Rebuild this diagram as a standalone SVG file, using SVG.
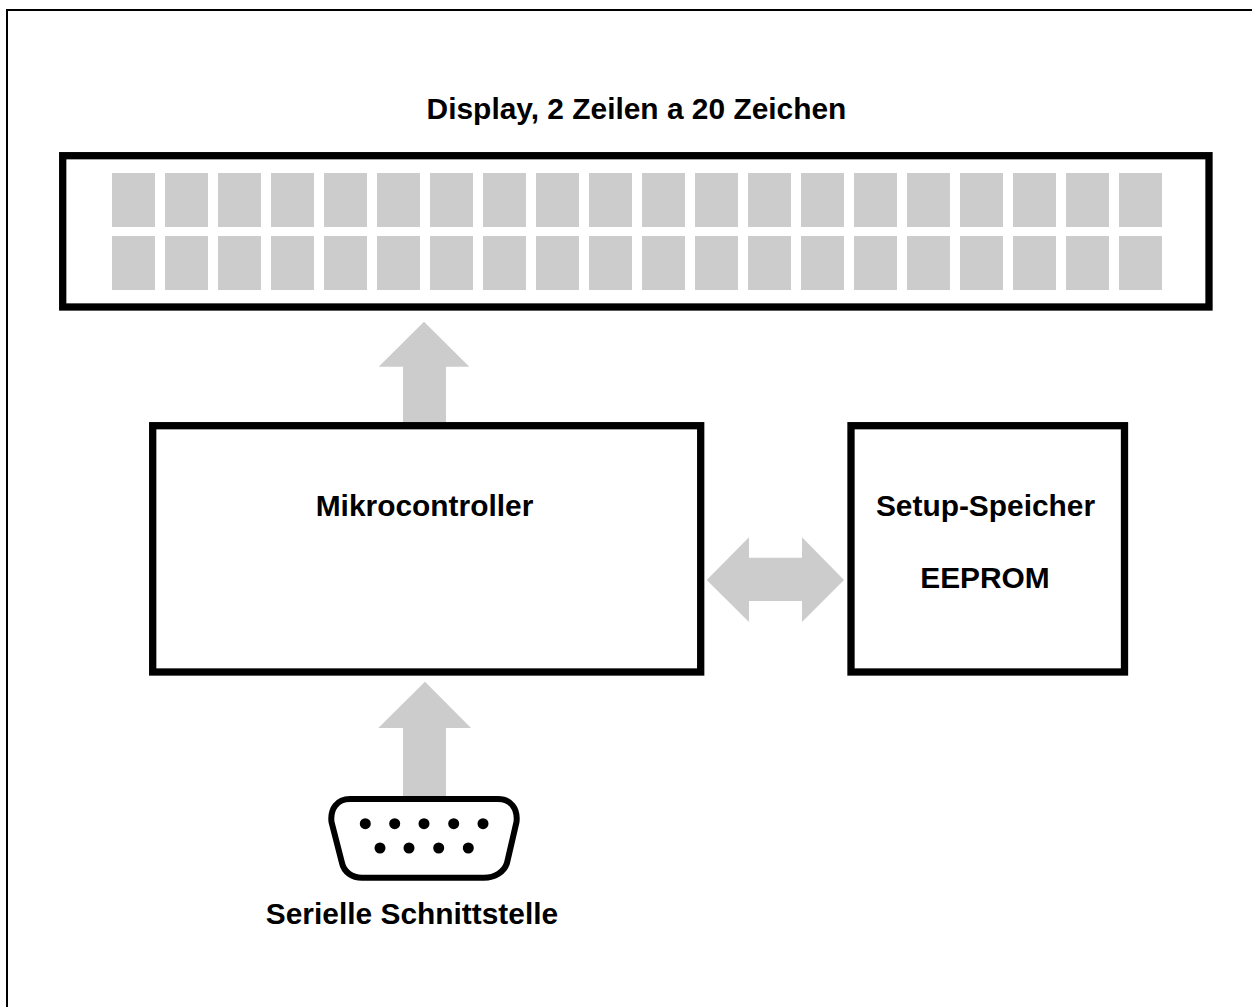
<svg xmlns="http://www.w3.org/2000/svg" width="1252" height="1007" viewBox="0 0 1252 1007">
<style>
.box{fill:none;stroke:#000;stroke-width:7.3}
.cell{fill:#ccc}
.arrow{fill:#ccc}
.t{font-family:"Liberation Sans",Arial,sans-serif;font-weight:bold;font-size:29.9px;text-anchor:middle;fill:#000}
</style>
<defs><rect id="c" class="cell" width="43" height="54"/></defs>
<rect width="1252" height="1007" fill="#fff"/>
<path id="frame" d="M7 1007V10H1252" fill="none" stroke="#000" stroke-width="2"/>
<g id="connectors">
<path class="arrow" d="M424 321.7L469.3 366.7H446V422H403V366.7H378.7Z"/>
<path class="arrow" d="M425 681.7L471 728H446V796H403V728H378.3Z"/>
<path class="arrow" d="M706.7 580L749 537.3V557.7H802V537.3L844 580L802 622V601H749V622Z"/>
</g>
<g id="display">
<text class="t" x="636.5" y="119">Display, 2 Zeilen a 20 Zeichen</text>
<rect class="box" x="62.7" y="155.7" width="1146.3" height="151.3"/>
<g id="cells">
<use href="#c" x="112" y="173"/><use href="#c" x="165" y="173"/><use href="#c" x="218" y="173"/><use href="#c" x="271" y="173"/><use href="#c" x="324" y="173"/><use href="#c" x="377" y="173"/><use href="#c" x="430" y="173"/><use href="#c" x="483" y="173"/><use href="#c" x="536" y="173"/><use href="#c" x="589" y="173"/><use href="#c" x="642" y="173"/><use href="#c" x="695" y="173"/><use href="#c" x="748" y="173"/><use href="#c" x="801" y="173"/><use href="#c" x="854" y="173"/><use href="#c" x="907" y="173"/><use href="#c" x="960" y="173"/><use href="#c" x="1013" y="173"/><use href="#c" x="1066" y="173"/><use href="#c" x="1119" y="173"/>
<use href="#c" x="112" y="236"/><use href="#c" x="165" y="236"/><use href="#c" x="218" y="236"/><use href="#c" x="271" y="236"/><use href="#c" x="324" y="236"/><use href="#c" x="377" y="236"/><use href="#c" x="430" y="236"/><use href="#c" x="483" y="236"/><use href="#c" x="536" y="236"/><use href="#c" x="589" y="236"/><use href="#c" x="642" y="236"/><use href="#c" x="695" y="236"/><use href="#c" x="748" y="236"/><use href="#c" x="801" y="236"/><use href="#c" x="854" y="236"/><use href="#c" x="907" y="236"/><use href="#c" x="960" y="236"/><use href="#c" x="1013" y="236"/><use href="#c" x="1066" y="236"/><use href="#c" x="1119" y="236"/>
</g>
</g>
<g id="mikrocontroller">
<rect class="box" x="152.7" y="425.7" width="548" height="246.3"/>
<text class="t" x="424.5" y="516">Mikrocontroller</text>
</g>
<g id="eeprom">
<rect class="box" x="851" y="425.7" width="273.5" height="246.3"/>
<text class="t" x="985.5" y="516">Setup-Speicher</text>
<text class="t" x="985" y="588">EEPROM</text>
</g>
<g id="schnittstelle">
<path d="M350 799H498C511 799 518 809 516.5 822L507 863C504 872 495 877.7 484 877.7H362C352 877.7 344 872 342 863L331.5 822C330 809 337 799 350 799Z" fill="#fff" stroke="#000" stroke-width="6"/>
<g fill="#000">
<circle cx="365.3" cy="823.7" r="5.5"/><circle cx="394.7" cy="823.7" r="5.5"/><circle cx="424" cy="823.7" r="5.5"/><circle cx="453.7" cy="823.7" r="5.5"/><circle cx="483" cy="823.7" r="5.5"/>
<circle cx="380" cy="848" r="5.5"/><circle cx="409" cy="848" r="5.5"/><circle cx="438.7" cy="848" r="5.5"/><circle cx="468.3" cy="848" r="5.5"/>
</g>
<text class="t" x="412" y="924">Serielle Schnittstelle</text>
</g>
</svg>
